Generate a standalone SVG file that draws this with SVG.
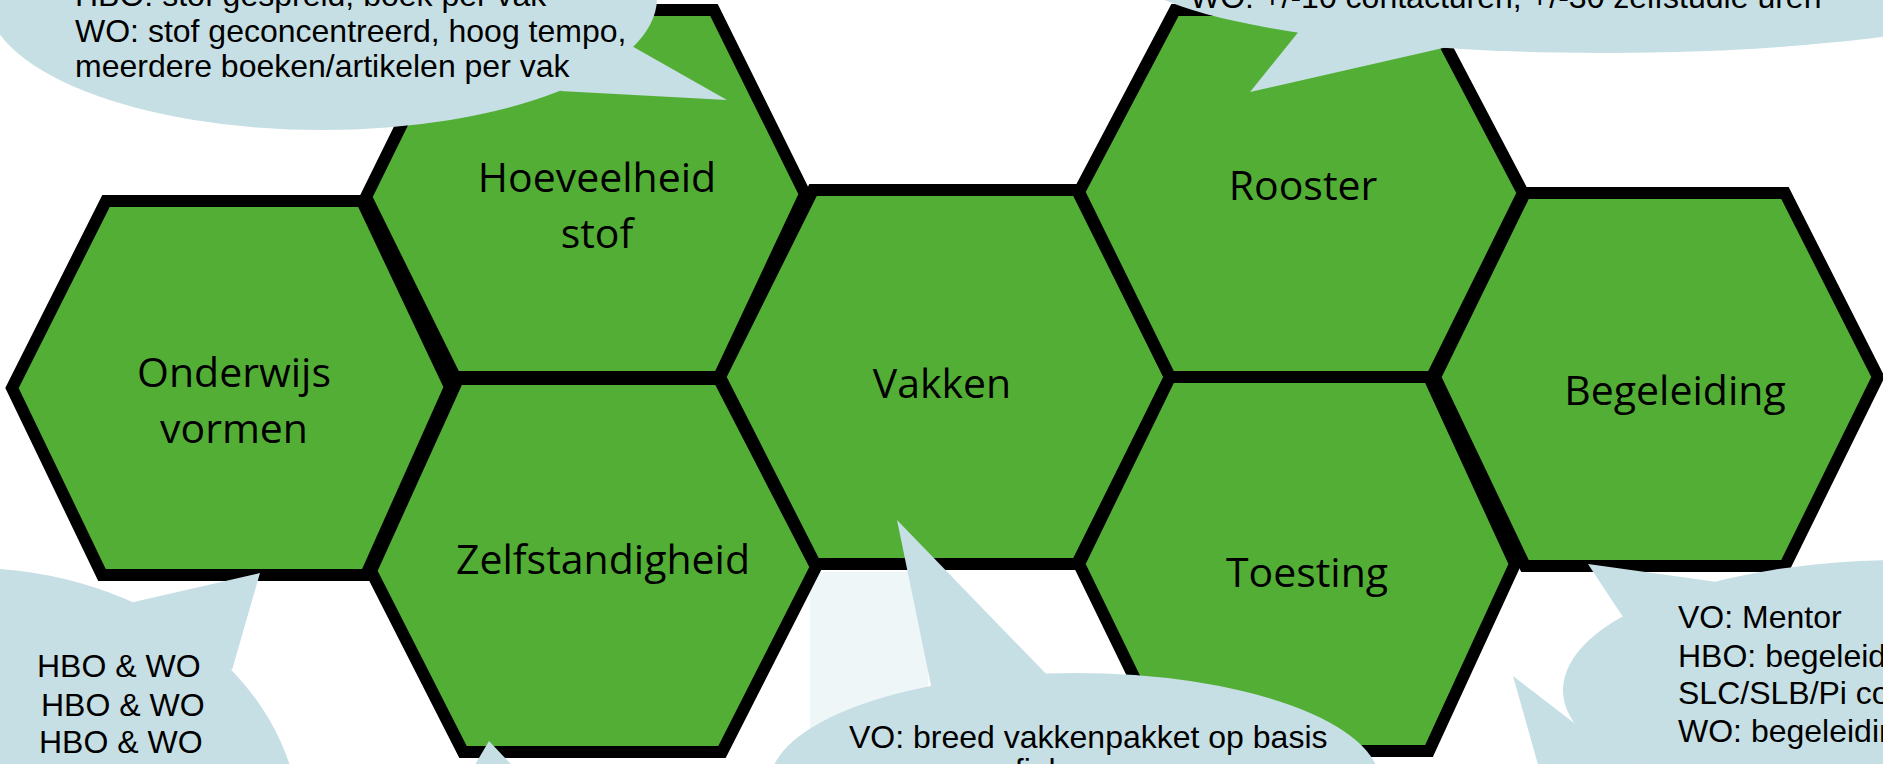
<svg xmlns="http://www.w3.org/2000/svg" width="1883" height="764" viewBox="0 0 1883 764">
<style>
.hex{fill:#53AE36;stroke:#000;stroke-width:12;stroke-linejoin:miter}
.lbl{font-family:"Open Sans","Noto Sans",sans-serif;font-size:41px;fill:#000;text-anchor:middle}
.co{fill:#C6DFE4;stroke:none}
.ct{font-family:"Liberation Sans",Arial,sans-serif;font-size:32px;fill:#000}
</style>
<rect width="1883" height="764" fill="#fff"/>
<rect x="810" y="572" width="118" height="192" fill="#EEF6F8"/>
<g id="onderwijs">
<polygon class="hex" points="12,388 106,201 362,201 450,387 366,575 102,575"/>
<text class="lbl" x="234" y="387">Onderwijs</text>
<text class="lbl" x="234" y="443">vormen</text>
</g>
<g id="hoeveelheid">
<polygon class="hex" points="366,197 458,10 714,10 805,194 719,377 455,377"/>
<text class="lbl" x="597" y="192">Hoeveelheid</text>
<text class="lbl" x="597" y="248">stof</text>
</g>
<g id="zelfstandigheid">
<polygon class="hex" points="371,571 458,379 719,379 816,567 722,752 463,752"/>
<text class="lbl" x="603" y="574">Zelfstandigheid</text>
</g>
<g id="vakken">
<polygon class="hex" points="720,377 813,190 1077,190 1170,377 1077,564 815,564"/>
<text class="lbl" x="942" y="398">Vakken</text>
</g>
<g id="rooster">
<polygon class="hex" points="1079,192 1175,10 1427,10 1523,193 1432,377 1170,377"/>
<text class="lbl" x="1303" y="200">Rooster</text>
</g>
<g id="toesting">
<polygon class="hex" points="1079,564 1170,377 1429,377 1515,564 1429,751 1170,751"/>
<text class="lbl" x="1307" y="587">Toesting</text>
</g>
<g id="begeleiding">
<polygon class="hex" points="1435,377 1525,193 1785,193 1878,377 1785,566 1525,566"/>
<text class="lbl" x="1675" y="405">Begeleiding</text>
</g>
<g id="connectors"></g>
<g id="callout-hoeveelheid">
<ellipse class="co" cx="322" cy="-2" rx="335" ry="132"/>
<polygon class="co" points="630,45 727,100 560,91"/>
<text class="ct" x="75" y="6">HBO: stof gespreid, boek per vak</text>
<text class="ct" x="75" y="42">WO: stof geconcentreerd, hoog tempo,</text>
<text class="ct" x="75" y="77">meerdere boeken/artikelen per vak</text>
</g>
<g id="callout-rooster">
<ellipse class="co" cx="1605" cy="-35" rx="480" ry="88"/>
<polygon class="co" points="1300,30 1250,92 1452,46"/>
<text class="ct" x="1190" y="8">WO: +/-10 contacturen, +/-30 zelfstudie uren</text>
</g>
<g id="callout-onderwijs">
<ellipse class="co" cx="-30" cy="830" rx="330" ry="262"/>
<polygon class="co" points="125,604 260,573 232,670"/>
<text class="ct" x="37" y="677">HBO &amp; WO</text>
<text class="ct" x="41" y="716">HBO &amp; WO</text>
<text class="ct" x="39" y="753">HBO &amp; WO</text>
</g>
<g id="callout-zelfstandigheid">
<polygon class="co" points="489,741 466,780 526,780"/>
</g>
<g id="callout-vakken">
<ellipse class="co" cx="1075" cy="783" rx="305" ry="110"/>
<polygon class="co" points="934,700 897,520 1052,680"/>
<text class="ct" x="849" y="748">VO: breed vakkenpakket op basis</text>
<text class="ct" x="908" y="781">van profiel</text>
</g>
<g id="callout-begeleiding">
<ellipse class="co" cx="1903" cy="690" rx="340" ry="130"/>
<polygon class="co" points="1625,620 1588,564 1717,582"/>
<polygon class="co" points="1578,726 1513,676 1548,800 1700,800"/>
<text class="ct" x="1678" y="628">VO: Mentor</text>
<text class="ct" x="1678" y="667">HBO: begeleiding</text>
<text class="ct" x="1678" y="704">SLC/SLB/Pi coach</text>
<text class="ct" x="1678" y="742">WO: begeleiding</text>
</g>
</svg>
